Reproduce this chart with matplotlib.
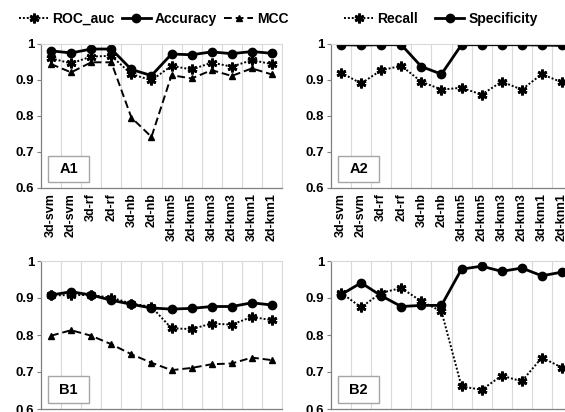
import matplotlib
matplotlib.use("Agg")
import matplotlib.pyplot as plt
from matplotlib.patches import Rectangle

plt.rcParams['font.family'] = ['Liberation Sans', 'DejaVu Sans']
plt.rcParams['font.weight'] = 'bold'

categories = ["3d-svm", "2d-svm", "3d-rf", "2d-rf", "3d-nb", "2d-nb",
              "3d-knn5", "2d-knn5", "3d-knn3", "2d-knn3", "3d-knn1", "2d-knn1"]

# Panel A1
a1_roc = [0.960, 0.946, 0.965, 0.967, 0.916, 0.899, 0.939, 0.929, 0.948, 0.937, 0.955, 0.944]
a1_acc = [0.981, 0.975, 0.986, 0.986, 0.929, 0.912, 0.972, 0.970, 0.978, 0.973, 0.979, 0.974]
a1_mcc = [0.944, 0.921, 0.949, 0.949, 0.795, 0.741, 0.913, 0.904, 0.927, 0.911, 0.932, 0.915]
# Panel A2
a2_recall = [0.920, 0.890, 0.927, 0.939, 0.895, 0.873, 0.878, 0.859, 0.895, 0.873, 0.916, 0.893]
a2_spec = [0.998, 0.997, 0.998, 0.998, 0.937, 0.916, 0.998, 0.998, 0.998, 0.998, 0.997, 0.996]
# Panel B1
b1_roc = [0.907, 0.908, 0.908, 0.901, 0.885, 0.876, 0.818, 0.816, 0.831, 0.828, 0.849, 0.840]
b1_acc = [0.908, 0.917, 0.908, 0.894, 0.883, 0.873, 0.870, 0.872, 0.877, 0.877, 0.887, 0.881]
b1_mcc = [0.798, 0.813, 0.798, 0.775, 0.748, 0.725, 0.705, 0.711, 0.721, 0.723, 0.739, 0.732]
# Panel B2
b2_recall = [0.914, 0.875, 0.914, 0.927, 0.891, 0.864, 0.661, 0.652, 0.690, 0.675, 0.739, 0.712]
b2_spec = [0.909, 0.941, 0.906, 0.877, 0.880, 0.880, 0.978, 0.986, 0.972, 0.981, 0.960, 0.970]

yticks = [0.6, 0.7, 0.8, 0.9, 1.0]
yticklabels = ["0.6", "0.7", "0.8", "0.9", "1"]

W, H = 565, 412
fig = plt.figure(figsize=(W / 100, H / 100), dpi=100)

def box(l, r, t, b):
    return [l / W, 1 - b / H, (r - l) / W, (b - t) / H]

axA1 = fig.add_axes(box(41, 282, 44, 187.5))
axA2 = fig.add_axes(box(331, 572, 44, 187.5))
axB1 = fig.add_axes(box(41, 282, 261, 409))
axB2 = fig.add_axes(box(331, 572, 261, 409))

star = (6, 2, 0)
style = {
    'roc': dict(color='black', ls=(0, (1, 1)), lw=1.4, marker=star, ms=7, mew=2.0),
    'acc': dict(color='black', ls='-', lw=2.0, marker='o', ms=6),
    'mcc': dict(color='black', ls=(0, (4, 2)), lw=1.4, marker='^', ms=4.5),
}

x = list(range(len(categories)))

def setup(ax, label, show_x=True):
    ax.set_xlim(-0.5, len(categories) - 0.5)
    ax.set_ylim(0.6, 1.0)
    ax.set_yticks(yticks)
    ax.set_yticklabels(yticklabels, fontsize=9.5, fontweight='bold')
    ax.set_xticks(x)
    if show_x:
        ax.set_xticklabels(categories, rotation=90, fontsize=9, fontweight='bold')
    else:
        ax.set_xticklabels([])
    ax.tick_params(axis='x', length=0, pad=4)
    ax.tick_params(axis='y', length=3, width=0.8, color='#808080', pad=2)
    for xv in [i + 0.5 for i in range(len(categories))]:
        ax.axvline(xv, color='#d9d9d9', lw=0.8, zorder=0)
    for s in ['left', 'bottom']:
        ax.spines[s].set_color('#808080')
        ax.spines[s].set_linewidth(0.9)
    for s in ['top', 'right']:
        ax.spines[s].set_color('#d9d9d9')
        ax.spines[s].set_linewidth(0.8)
    ax.add_patch(Rectangle((0.03, 0.04), 0.17, 0.18, transform=ax.transAxes,
                           facecolor='white', edgecolor='#a6a6a6', lw=1.0, zorder=5))
    ax.text(0.115, 0.13, label, transform=ax.transAxes, ha='center', va='center',
            fontsize=10.5, fontweight='bold', zorder=6)

axA1.plot(x, a1_roc, **style['roc'], label='ROC_auc')
axA1.plot(x, a1_acc, **style['acc'], label='Accuracy')
axA1.plot(x, a1_mcc, **style['mcc'], label='MCC')
setup(axA1, 'A1')

axA2.plot(x, a2_recall, **style['roc'], label='Recall')
axA2.plot(x, a2_spec, **style['acc'], label='Specificity')
setup(axA2, 'A2')

axB1.plot(x, b1_roc, **style['roc'])
axB1.plot(x, b1_acc, **style['acc'])
axB1.plot(x, b1_mcc, **style['mcc'])
setup(axB1, 'B1', show_x=False)

axB2.plot(x, b2_recall, **style['roc'])
axB2.plot(x, b2_spec, **style['acc'])
setup(axB2, 'B2', show_x=False)

leg_kw = dict(loc='center', frameon=False, ncol=3, handlelength=2.1,
              handletextpad=0.3, columnspacing=0.5, borderpad=0, borderaxespad=0,
              prop={'size': 10, 'weight': 'bold'})
fig.legend(*axA1.get_legend_handles_labels(), bbox_to_anchor=(154 / W, 1 - 19 / H), **leg_kw)
leg_kw2 = dict(leg_kw)
leg_kw2['ncol'] = 2
leg_kw2['columnspacing'] = 1.2
fig.legend(*axA2.get_legend_handles_labels(), bbox_to_anchor=(441 / W, 1 - 19 / H), **leg_kw2)

fig.savefig('out.png', dpi=100)
